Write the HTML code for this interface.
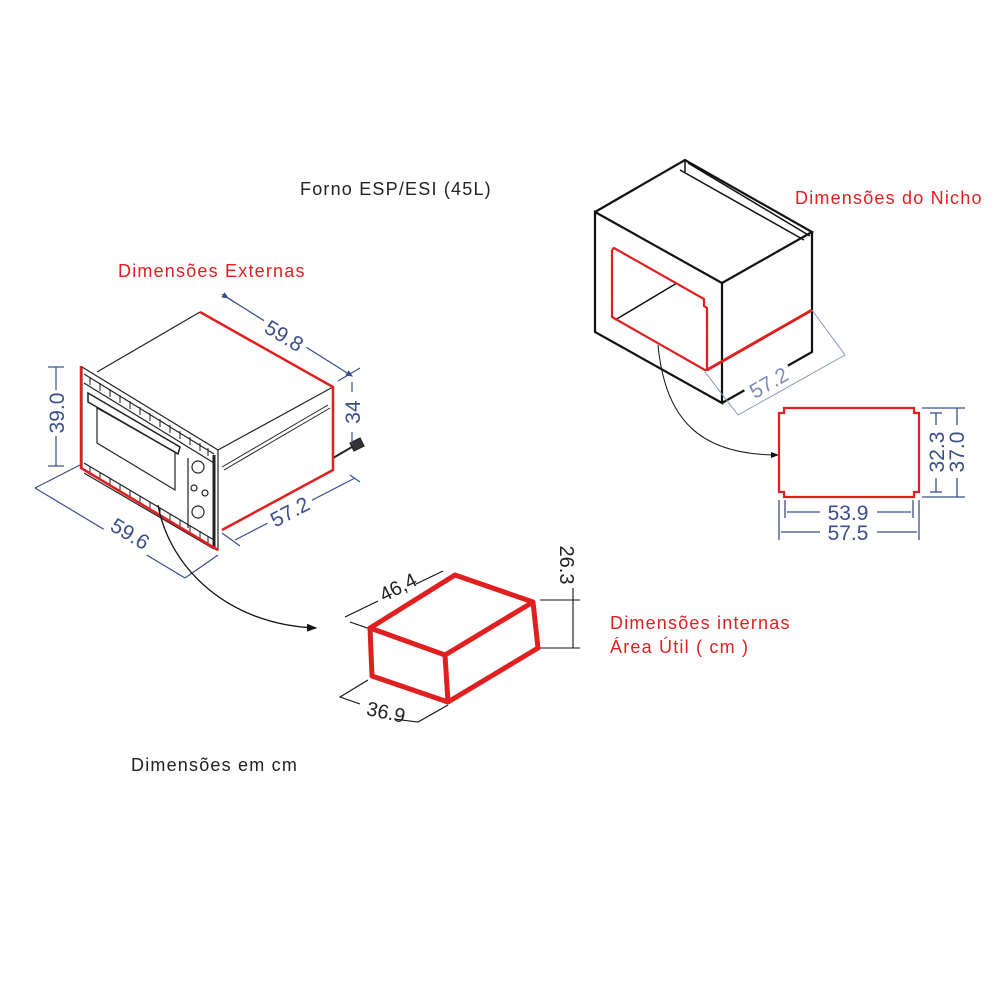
<!DOCTYPE html>
<html><head><meta charset="utf-8"><style>
html,body{margin:0;padding:0;background:#fff;}
svg{display:block;}
text{font-family:"Liberation Sans",sans-serif;}
.lb{font-size:18px;letter-spacing:1.2px;}
</style></head><body>
<svg width="1000" height="1000" viewBox="0 0 1000 1000" xmlns="http://www.w3.org/2000/svg">
<defs>
<marker id="ar" markerWidth="8" markerHeight="8" refX="7" refY="4" orient="auto"><path d="M0,1 L8,4 L0,7 Z" fill="#111"/></marker>
<marker id="bt" markerWidth="6" markerHeight="6" refX="5" refY="3" orient="auto"><path d="M0,0.5 L6,3 L0,5.5 Z" fill="#3a4f8a"/></marker>
</defs>
<rect width="1000" height="1000" fill="#fff"/>

<text class="lb" x="300" y="195" fill="#222">Forno ESP/ESI (45L)</text>
<text class="lb" x="118" y="277" fill="#e02020">Dimensões Externas</text>
<text class="lb" x="795" y="204" fill="#e02020">Dimensões do Nicho</text>
<text class="lb" x="610" y="629" fill="#e02020">Dimensões internas</text>
<text class="lb" x="610" y="653" fill="#e02020">Área Útil ( cm )</text>
<text class="lb" x="131" y="771" fill="#222">Dimensões em cm</text>

<!-- OVEN -->
<g stroke="#222" stroke-width="1.2" fill="none">
<line x1="97" y1="372" x2="200" y2="312"/>
<line x1="218" y1="450" x2="333" y2="387"/>
<line x1="222" y1="467" x2="328" y2="405" stroke-width="1"/>
<line x1="224" y1="470" x2="330" y2="408" stroke-width="1"/>
<polygon points="82,367 218,450 218,550 82,468"/>
<line x1="84" y1="374" x2="214" y2="454"/>
<line x1="84" y1="383" x2="214" y2="463"/>
<line x1="84" y1="463" x2="214" y2="540"/>
<line x1="84" y1="473" x2="214" y2="549"/>
<polygon points="97,408 175,452 175,490 97,443"/>
<polygon points="88,393 180,447 178,454 88,402" stroke-width="1.5"/>
<line x1="188" y1="458" x2="188" y2="528"/>
<line x1="214" y1="455" x2="214" y2="548" stroke-width="3"/>
<circle cx="198" cy="467" r="6"/>
<circle cx="198" cy="512" r="6"/>
<circle cx="194" cy="488" r="3"/>
<circle cx="205" cy="493" r="3"/>
<line x1="333" y1="458" x2="352" y2="447" stroke-width="2"/>
<path d="M350,443 l10,-5 l4,8 l-10,5 z" fill="#333"/>
</g>
<g stroke="#222" stroke-width="1">
<path d="M90,377 l0,8 M100,383 l0,8 M110,389 l0,8 M120,395 l0,8 M130,401 l0,8 M140,407 l0,8 M150,413 l0,8 M160,419 l0,8 M170,425 l0,8 M180,431 l0,8 M190,437 l0,8 M200,443 l0,8 M208,448 l0,8"/>
<path d="M90,467 l0,8 M100,472 l0,8 M110,478 l0,8 M120,484 l0,8 M130,490 l0,8 M140,496 l0,8 M150,502 l0,8 M160,508 l0,8 M170,514 l0,8 M180,520 l0,8 M190,525 l0,8 M200,531 l0,8 M208,536 l0,8"/>
</g>
<g stroke="#e02020" stroke-width="2.5" fill="none">
<polyline points="200,312 333,387 333,470 222,530"/>
<polyline points="81,366 81,468 218,550"/>
</g>
<g stroke="#3a4f8a" stroke-width="1.2" fill="none">
<line x1="228" y1="298" x2="352" y2="376" marker-end="url(#bt)" marker-start="url(#bt)"/>
<line x1="222" y1="294" x2="234" y2="302"/>
<line x1="338" y1="381" x2="360" y2="368"/>
<line x1="56" y1="367" x2="56" y2="466"/>
<line x1="48" y1="367" x2="64" y2="367"/>
<line x1="48" y1="466" x2="64" y2="466"/>
<line x1="35" y1="488" x2="80" y2="465"/>
<line x1="35" y1="488" x2="185" y2="578"/>
<line x1="185" y1="578" x2="218" y2="555"/>
<line x1="235" y1="540" x2="355" y2="478"/>
<line x1="222" y1="533" x2="240" y2="546"/>
<line x1="350" y1="475" x2="360" y2="482"/>
<line x1="352" y1="382" x2="352" y2="392"/>
<line x1="352" y1="432" x2="352" y2="445"/>
</g>
<g fill="#3a4f8a" font-size="21">
<rect x="259" y="324" width="50" height="24" fill="#fff" transform="rotate(31 284 336)"/>
<text x="284" y="343" text-anchor="middle" transform="rotate(31 284 336)">59.8</text>
<rect x="44" y="390" width="24" height="46" fill="#fff"/>
<text x="64" y="413" text-anchor="middle" transform="rotate(-90 64 413)">39.0</text>
<rect x="105" y="522" width="50" height="24" fill="#fff" transform="rotate(31 130 534)"/>
<text x="130" y="541" text-anchor="middle" transform="rotate(31 130 534)">59.6</text>
<rect x="265" y="500" width="50" height="24" fill="#fff" transform="rotate(-28 290 512)"/>
<text x="290" y="519" text-anchor="middle" transform="rotate(-28 290 512)">57.2</text>
<text x="360" y="412" text-anchor="middle" transform="rotate(-90 360 412)">34</text>
</g>
<path d="M158,505 C170,570 230,625 316,628" stroke="#111" stroke-width="1.3" fill="none" marker-end="url(#ar)"/>

<!-- NICHE -->
<g stroke="#111" stroke-width="2.2" fill="none">
<polygon points="595,212 722,283 722,403 595,332"/>
<polyline points="595,212 685,160 812,232 722,283"/>
<polyline points="812,232 812,352 722,403"/>
<line x1="685" y1="160" x2="685" y2="172" stroke-width="1.5"/>
<line x1="680" y1="170" x2="804" y2="240" stroke-width="1.5"/>
<line x1="688" y1="163" x2="810" y2="236" stroke-width="1.5"/>
<line x1="615" y1="320" x2="677" y2="283" stroke-width="1.5"/>
</g>
<g stroke="#e02020" stroke-width="2.2" fill="none">
<polyline points="612,250 614,248 704,299 704,306 707,308 707,370 705,370 612,317 612,250"/>
<line x1="707" y1="370" x2="812" y2="310" stroke-width="3"/>
</g>
<g stroke="#8a96b8" stroke-width="1" fill="none">
<polyline points="705,372 738,415 845,355 812,310"/>
</g>
<rect x="744" y="371" width="50" height="24" fill="#fff" transform="rotate(-30 769 383)"/>
<text x="769" y="390" font-size="21" fill="#7d8bb5" text-anchor="middle" transform="rotate(-30 769 383)">57.2</text>
<path d="M658,345 C665,420 700,455 778,455" stroke="#111" stroke-width="1" fill="none" marker-end="url(#ar)"/>
<polygon points="784,408 914,408 914,413 919,413 919,492 914,492 914,497 784,497 784,492 779,492 779,413 784,413" stroke="#e02020" stroke-width="2.2" fill="none"/>
<g stroke="#3a4f8a" stroke-width="1.3" fill="none">
<line x1="785" y1="500" x2="785" y2="518"/><line x1="913" y1="500" x2="913" y2="518"/>
<line x1="779" y1="500" x2="779" y2="540"/><line x1="919" y1="500" x2="919" y2="540"/>
<line x1="787" y1="512" x2="820" y2="512" /><line x1="877" y1="512" x2="911" y2="512"/>
<line x1="781" y1="532" x2="820" y2="532"/><line x1="877" y1="532" x2="917" y2="532"/>
<line x1="922" y1="408" x2="965" y2="408"/><line x1="922" y1="497" x2="965" y2="497"/>
<line x1="930" y1="413" x2="942" y2="413"/><line x1="930" y1="492" x2="942" y2="492"/>
<line x1="936" y1="413" x2="936" y2="425"/><line x1="936" y1="478" x2="936" y2="492"/>
<line x1="957" y1="408" x2="957" y2="425"/><line x1="957" y1="478" x2="957" y2="497"/>
</g>
<g fill="#3a4f8a" font-size="21">
<text x="848" y="520" text-anchor="middle">53.9</text>
<text x="848" y="540" text-anchor="middle">57.5</text>
<text x="944" y="452" text-anchor="middle" transform="rotate(-90 944 452)">32.3</text>
<text x="964" y="452" text-anchor="middle" transform="rotate(-90 964 452)">37.0</text>
</g>

<!-- INNER BOX -->
<g stroke="#111" stroke-width="1.1" fill="none">
<line x1="345" y1="617" x2="378" y2="601"/><line x1="416" y1="584" x2="443" y2="571"/>
<line x1="350" y1="622" x2="445" y2="655"/>
<line x1="540" y1="600" x2="580" y2="600"/><line x1="540" y1="648" x2="580" y2="648"/>
<line x1="573" y1="588" x2="573" y2="648"/>
<polyline points="368,680 340,697 360,704"/><polyline points="394,719 418,722 448,705"/>
</g>
<g stroke="#e02020" stroke-width="5" fill="none" stroke-linejoin="round">
<polygon points="370,628 455,575 533,602 445,655"/>
<polyline points="370,628 372,676 448,702 538,648 533,602"/>
<line x1="445" y1="655" x2="448" y2="702"/>
</g>
<g fill="#222" font-size="20">
<text x="398" y="594" text-anchor="middle" transform="rotate(-27 398 587)">46,4</text>
<text x="386" y="719" text-anchor="middle" transform="rotate(12 386 712)">36.9</text>
<text x="560" y="565" text-anchor="middle" transform="rotate(90 560 565)">26.3</text>
</g>
</svg>
</body></html>
